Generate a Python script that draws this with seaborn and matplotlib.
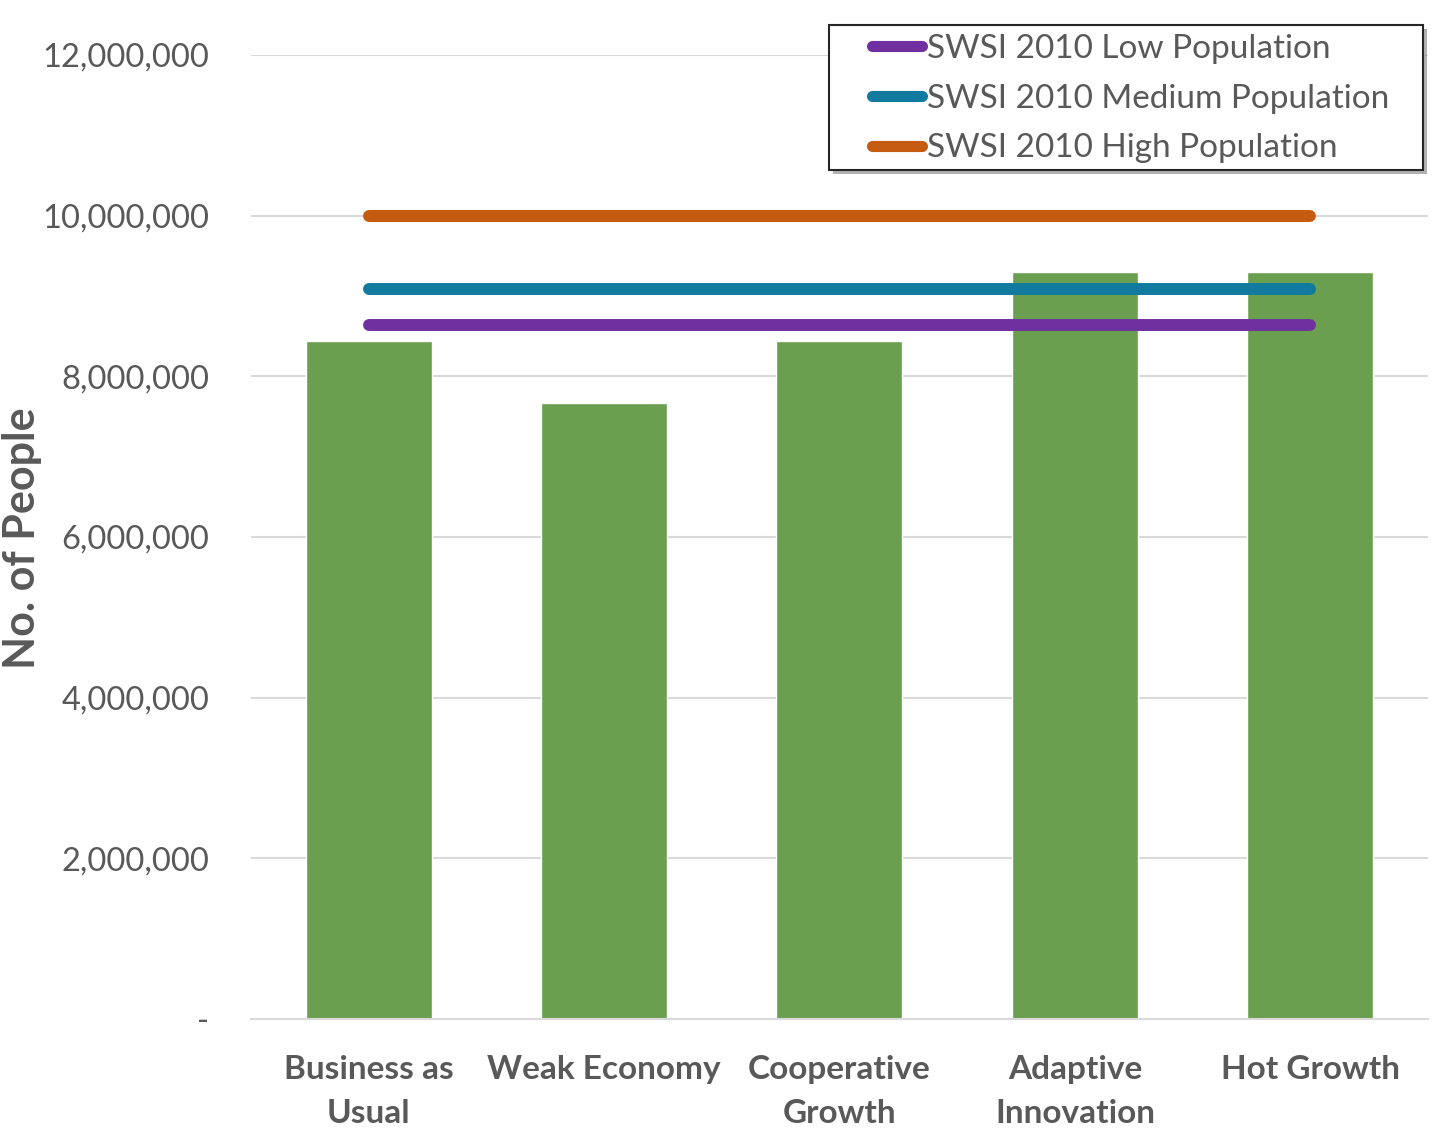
import matplotlib
matplotlib.use("Agg")
import matplotlib.pyplot as plt
import matplotlib.patheffects as pe
from matplotlib.patches import Rectangle
from matplotlib.ticker import FuncFormatter
import seaborn as sns
import pandas as pd

# Scenario populations (people)
scenarios = ["Business as\nUsual", "Weak Economy", "Cooperative\nGrowth",
             "Adaptive\nInnovation", "Hot Growth"]
scenario_pop = [8_440_000, 7_670_000, 8_440_000, 9_300_000, 9_300_000]

# SWSI 2010 projections, one value per scenario column
swsi_low = [8_640_000, 8_640_000, 8_640_000, 8_640_000, 8_640_000]
swsi_medium = [9_090_000, 9_090_000, 9_090_000, 9_090_000, 9_090_000]
swsi_high = [10_000_000, 10_000_000, 10_000_000, 10_000_000, 10_000_000]
series_names = ["SWSI 2010 Low Population", "SWSI 2010 Medium Population",
                "SWSI 2010 High Population"]

y_ticks = [0, 2_000_000, 4_000_000, 6_000_000, 8_000_000, 10_000_000, 12_000_000]

sns.set_theme(style="white")
plt.rcParams["font.family"] = ["Lato", "DejaVu Sans"]

bar_color = "#6A9F4F"
line_colors = ["#7030A0", "#117A9E", "#C55A11"]
text_color = "#595959"
grid_color = "#D9D9D9"

W, H = 1453, 1131
fig = plt.figure(figsize=(W / 100, H / 100), dpi=100)
ax = fig.add_axes([0.1727, 0.0990, 0.8101, 0.8524])

bars = pd.DataFrame({"scenario": scenarios, "people": scenario_pop})
sns.barplot(data=bars, x="scenario", y="people", color=bar_color,
            saturation=1, width=0.535, ax=ax, zorder=2)

for vals, name, col in zip([swsi_low, swsi_medium, swsi_high], series_names, line_colors):
    df = pd.DataFrame({"x": range(len(scenarios)), "y": vals})
    sns.lineplot(data=df, x="x", y="y", color=col, linewidth=8.6,
                 solid_capstyle="round", label=name, ax=ax, zorder=3)

ax.set_xlim(-0.5, len(scenarios) - 0.5)
ax.set_ylim(0, 12_000_000)
ax.set_yticks(y_ticks)
ax.yaxis.set_major_formatter(FuncFormatter(lambda v, p: "-" if v == 0 else f"{int(v):,}"))
ax.grid(axis="y", color=grid_color, linewidth=1.5, zorder=0)
ax.set_axisbelow(True)
for s in ["top", "right", "left"]:
    ax.spines[s].set_visible(False)
ax.spines["bottom"].set_color(grid_color)
ax.spines["bottom"].set_linewidth(1.5)

ax.tick_params(axis="y", length=0, pad=30, labelsize=23.5, labelcolor=text_color)
ax.tick_params(axis="x", length=0, pad=26, labelsize=24, labelcolor=text_color)
ax.set_xticks(range(len(scenarios)))
ax.set_xticklabels(scenarios, fontweight="bold", linespacing=1.62)
ax.set_xlabel("")
ax.set_ylabel("")
fig.text(22 / W, 1 - 538 / H, "No. of People", rotation=90, ha="center",
         va="center", fontsize=31, fontweight="bold", color=text_color)

# Legend box drawn as its own framed patch with a drop shadow
box = Rectangle((829 / W, 1 - 170 / H), 594 / W, 145 / H, transform=fig.transFigure,
                facecolor="white", edgecolor="#262626", linewidth=1.5,
                clip_on=False, zorder=5)
box.set_path_effects([pe.SimplePatchShadow(offset=(3, -3), shadow_rgbFace="#7f7f7f", alpha=0.6),
                      pe.Normal()])
ax.add_patch(box)

leg = ax.legend(loc="upper left", bbox_to_anchor=(872 / W, 1 - 34 / H),
                bbox_transform=fig.transFigure, fontsize=24, frameon=False,
                handlelength=1.5, handletextpad=0.15, labelspacing=0.59,
                borderpad=0, borderaxespad=0, labelcolor=text_color)
leg.set_zorder(6)
for h in leg.get_lines():
    h.set_solid_capstyle("round")
    h.set_linewidth(8)

fig.savefig("out.png", dpi=100, facecolor="white")
